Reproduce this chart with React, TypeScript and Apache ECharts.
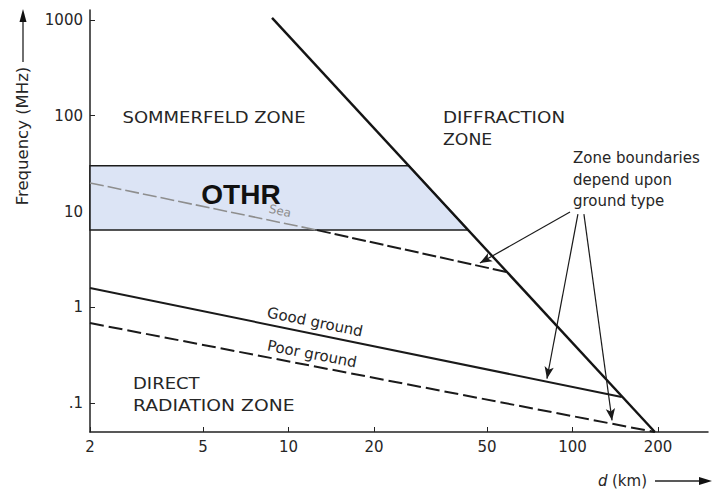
import React, { useEffect, useRef } from "react";
import * as echarts from "echarts";

// Axis ranges and ticks (real units)
const xRange = [2, 300]; // d (km)
const yRange = [0.05, 1270]; // Frequency (MHz)
const xTicks = [2, 5, 10, 20, 50, 100, 200];
const yTicks = [0.1, 1, 10, 100, 1000];

// Diffraction zone boundary
const diffractionX = [8.75, 195];
const diffractionY = [1050, 0.05];
// Good ground boundary
const goodGroundX = [2, 149];
const goodGroundY = [1.59, 0.116];
// Poor ground boundary
const poorGroundX = [2, 195];
const poorGroundY = [0.685, 0.05];
// Sea boundary (inside the OTHR box, then outside)
const seaInsideX = [2, 12.6];
const seaInsideY = [19.9, 6.4];
const seaOutsideX = [12.6, 58.8];
const seaOutsideY = [6.4, 2.33];
// OTHR band polygon
const othrX = [2, 26.5, 42.9, 2];
const othrY = [30, 30, 6.4, 6.4];
// Annotation arrows "Zone boundaries depend upon ground type"
const arrowFromX = [98, 104.5, 109.7];
const arrowFromY = [9.9, 9.4, 9.4];
const arrowToX = [47.2, 81.3, 137.8];
const arrowToY = [2.9, 0.18, 0.066];

const L = (v: number) => Math.log10(v);
const pts = (xs: number[], ys: number[]) => xs.map((x, i) => [L(x), L(ys[i])]);

const fmt = (v: number) => {
  const val = Math.pow(10, v);
  if (val < 1) return String(+val.toPrecision(2)).replace(/^0/, "");
  return String(Math.round(val));
};

const TXT = "#262626";
const FONT = "DejaVu Sans";

export default function App() {
  const ref = useRef<HTMLDivElement>(null);
  useEffect(() => {
    if (!ref.current) return;
    const chart = echarts.init(ref.current, null, { renderer: "svg" });
    const lineBase = { type: "line", symbol: "none", silent: true, animation: false };
    const option: any = {
      animation: false,
      backgroundColor: "#ffffff",
      grid: { left: 90, right: 5, top: 10, bottom: 60, containLabel: false },
      xAxis: {
        type: "value",
        min: L(xRange[0]),
        max: L(xRange[1]),
        splitLine: { show: false },
        axisLine: { show: true, onZero: false, lineStyle: { color: "#222", width: 1.5 } },
        axisTick: { show: true, inside: true, length: 5, customValues: xTicks.map(L), lineStyle: { color: "#222" } },
        axisLabel: { customValues: xTicks.map(L), formatter: fmt, color: TXT, fontFamily: FONT, fontSize: 15, margin: 7 },
      },
      yAxis: {
        type: "value",
        min: L(yRange[0]),
        max: L(yRange[1]),
        splitLine: { show: false },
        axisLine: { show: true, onZero: false, lineStyle: { color: "#222", width: 1.5 } },
        axisTick: { show: true, inside: true, length: 5, customValues: yTicks.map(L), lineStyle: { color: "#222" } },
        axisLabel: { customValues: yTicks.map(L), formatter: fmt, color: TXT, fontFamily: FONT, fontSize: 15, margin: 7 },
      },
      series: [
        {
          type: "custom",
          coordinateSystem: "cartesian2d",
          silent: true,
          z: 1,
          data: [[L(2), L(6.4)]],
          renderItem: (_p: any, api: any) => {
            const points = pts(othrX, othrY).map((p) => api.coord(p));
            return {
              type: "polygon",
              shape: { points },
              style: { fill: "#dce4f5", stroke: "#1c1c1c", lineWidth: 1.5 },
            };
          },
        },
        {
          ...lineBase,
          name: "Sea (in band)",
          z: 3,
          data: pts(seaInsideX, seaInsideY),
          lineStyle: { color: "#8e8e8e", width: 1.6, type: [14, 4] },
        },
        {
          ...lineBase,
          name: "Sea",
          z: 3,
          data: pts(seaOutsideX, seaOutsideY),
          lineStyle: { color: "#1a1a1a", width: 2, type: [14, 4] },
        },
        {
          ...lineBase,
          name: "Diffraction boundary",
          z: 4,
          data: pts(diffractionX, diffractionY),
          lineStyle: { color: "#141414", width: 2.4 },
        },
        {
          ...lineBase,
          name: "Good ground",
          z: 3,
          data: pts(goodGroundX, goodGroundY),
          lineStyle: { color: "#1a1a1a", width: 2 },
          markLine: {
            silent: true,
            animation: false,
            symbol: ["none", "arrow"],
            symbolSize: [7, 12],
            label: { show: false },
            lineStyle: { color: "#1a1a1a", width: 1.2, type: "solid" },
            data: arrowFromX.map((x, i) => [
              { coord: [L(x), L(arrowFromY[i])] },
              { coord: [L(arrowToX[i]), L(arrowToY[i])] },
            ]),
          },
        },
        {
          ...lineBase,
          name: "Poor ground",
          z: 3,
          data: pts(poorGroundX, poorGroundY),
          lineStyle: { color: "#1a1a1a", width: 2, type: [14, 5] },
        },
      ],
      graphic: [
        { type: "text", x: 214, y: 118, scaleX: 1.2, style: { text: "SOMMERFELD ZONE", font: `15px "${FONT}"`, fill: TXT, align: "center", verticalAlign: "middle" } },
        { type: "text", x: 443, y: 118, scaleX: 1.22, style: { text: "DIFFRACTION", font: `15px "${FONT}"`, fill: TXT, align: "left", verticalAlign: "middle" } },
        { type: "text", x: 443, y: 140, scaleX: 1.15, style: { text: "ZONE", font: `15px "${FONT}"`, fill: TXT, align: "left", verticalAlign: "middle" } },
        { type: "text", x: 573, y: 158, style: { text: "Zone boundaries", font: `15px "${FONT}"`, fill: TXT, align: "left", verticalAlign: "middle" } },
        { type: "text", x: 573, y: 180, style: { text: "depend upon", font: `15px "${FONT}"`, fill: TXT, align: "left", verticalAlign: "middle" } },
        { type: "text", x: 573, y: 201, style: { text: "ground type", font: `15px "${FONT}"`, fill: TXT, align: "left", verticalAlign: "middle" } },
        { type: "text", x: 133, y: 384, scaleX: 1.2, style: { text: "DIRECT", font: `15px "${FONT}"`, fill: TXT, align: "left", verticalAlign: "middle" } },
        { type: "text", x: 133, y: 406, scaleX: 1.25, style: { text: "RADIATION ZONE", font: `15px "${FONT}"`, fill: TXT, align: "left", verticalAlign: "middle" } },
        { type: "text", x: 241, y: 194, z: 10, style: { text: "OTHR", font: `bold 28px "Liberation Sans"`, fill: "#111", align: "center", verticalAlign: "middle" } },
        { type: "text", x: 280, y: 211, rotation: -0.21, z: 10, style: { text: "Sea", font: `12px "${FONT}"`, fill: "#8c8c8c", align: "center", verticalAlign: "middle" } },
        { type: "text", x: 315, y: 322, rotation: -0.2, style: { text: "Good ground", font: `15px "${FONT}"`, fill: TXT, align: "center", verticalAlign: "middle" } },
        { type: "text", x: 312, y: 354, rotation: -0.19, style: { text: "Poor ground", font: `15px "${FONT}"`, fill: TXT, align: "center", verticalAlign: "middle" } },
        { type: "text", x: 23, y: 136, rotation: Math.PI / 2, scaleX: 1.1, style: { text: "Frequency (MHz)", font: `15px "${FONT}"`, fill: TXT, align: "center", verticalAlign: "middle" } },
        { type: "line", shape: { x1: 23, y1: 62, x2: 23, y2: 20 }, style: { stroke: "#222", lineWidth: 1.3 } },
        { type: "polygon", shape: { points: [[23, 9], [19.5, 22], [26.5, 22]] }, style: { fill: "#111" } },
        { type: "text", x: 598, y: 481, style: { text: "d", font: `italic 15px "${FONT}"`, fill: TXT, align: "left", verticalAlign: "middle" } },
        { type: "text", x: 612, y: 481, style: { text: "(km)", font: `15px "${FONT}"`, fill: TXT, align: "left", verticalAlign: "middle" } },
        { type: "line", shape: { x1: 655, y1: 481, x2: 702, y2: 481 }, style: { stroke: "#222", lineWidth: 1.3 } },
        { type: "polygon", shape: { points: [[712, 481], [699, 477], [699, 485]] }, style: { fill: "#111" } },
      ],
    };
    chart.setOption(option);
    return () => chart.dispose();
  }, []);
  return (
    <div
      ref={ref}
      style={{ position: "fixed", left: 0, top: 0, width: 713, height: 492, background: "#fff" }}
    />
  );
}
